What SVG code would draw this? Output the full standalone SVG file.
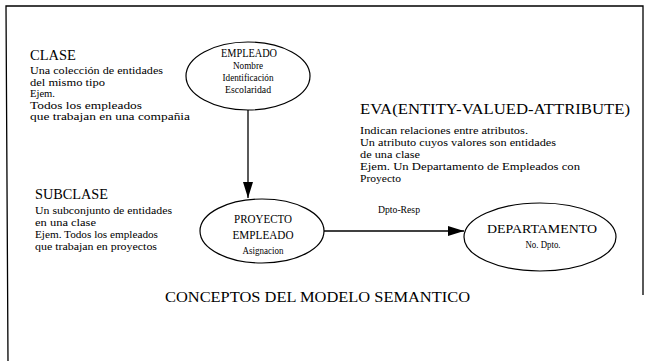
<svg xmlns="http://www.w3.org/2000/svg" width="648" height="361" viewBox="0 0 648 361" font-family="'Liberation Serif', serif">
<defs>
<marker id="ah" viewBox="0 0 16 10" refX="16" refY="5" markerWidth="16" markerHeight="10" markerUnits="userSpaceOnUse" orient="auto">
<path d="M0,0 L16,5 L0,10 Z" fill="#000"/>
</marker>
</defs>
<style>
text{font-family:'Liberation Serif','Times New Roman',serif;fill:#000}
.h{font-size:15px}
.t{font-size:10px}
.s{font-size:9.5px}
.n{font-size:12px}
.d{font-size:13px}
.c{text-anchor:middle}
.e{fill:#fff;stroke:#000;stroke-width:1.2}
.l{fill:none;stroke:#000;stroke-width:1.3}
</style>
<rect width="648" height="361" fill="#fff"/>
<polyline class="l" points="8,361 6,6 643,6 643,295"/>
<g id="clase">
<text class="h" x="30" y="60" textLength="46" lengthAdjust="spacingAndGlyphs">CLASE</text>
<text class="t" x="30" y="74" textLength="133" lengthAdjust="spacingAndGlyphs">Una colección de entidades</text>
<text class="t" x="30" y="85.5" textLength="75" lengthAdjust="spacingAndGlyphs">del mismo tipo</text>
<text class="t" x="30" y="97" textLength="25" lengthAdjust="spacingAndGlyphs">Ejem.</text>
<text class="t" x="30" y="108.5" textLength="112" lengthAdjust="spacingAndGlyphs">Todos los empleados</text>
<text class="t" x="30" y="120" textLength="160" lengthAdjust="spacingAndGlyphs">que trabajan en una compañia</text>
</g>
<g id="subclase">
<text class="h" x="35" y="199" textLength="73" lengthAdjust="spacingAndGlyphs">SUBCLASE</text>
<text class="t" x="35" y="214" textLength="137" lengthAdjust="spacingAndGlyphs">Un subconjunto de entidades</text>
<text class="t" x="35" y="226" textLength="61" lengthAdjust="spacingAndGlyphs">en una clase</text>
<text class="t" x="35" y="238" textLength="123" lengthAdjust="spacingAndGlyphs">Ejem. Todos los empleados</text>
<text class="t" x="35" y="250" textLength="122" lengthAdjust="spacingAndGlyphs">que trabajan en proyectos</text>
</g>
<g id="eva">
<text class="h" x="360" y="114" textLength="270" lengthAdjust="spacingAndGlyphs">EVA(ENTITY-VALUED-ATTRIBUTE)</text>
<text class="t" x="360" y="134" textLength="168" lengthAdjust="spacingAndGlyphs">Indican relaciones entre atributos.</text>
<text class="t" x="360" y="146" textLength="196" lengthAdjust="spacingAndGlyphs">Un atributo cuyos valores son entidades</text>
<text class="t" x="360" y="158" textLength="60" lengthAdjust="spacingAndGlyphs">de una clase</text>
<text class="t" x="360" y="170" textLength="220" lengthAdjust="spacingAndGlyphs">Ejem. Un Departamento de Empleados con</text>
<text class="t" x="360" y="182" textLength="41" lengthAdjust="spacingAndGlyphs">Proyecto</text>
</g>
<g id="connectors">
<line class="l" x1="248" y1="110" x2="248" y2="198" marker-end="url(#ah)"/>
<line class="l" x1="324" y1="231" x2="464" y2="231" marker-end="url(#ah)"/>
<text class="s" x="378" y="213" textLength="42" lengthAdjust="spacingAndGlyphs">Dpto-Resp</text>
</g>
<g id="empleado">
<ellipse class="e" cx="248" cy="76" rx="62" ry="34"/>
<text class="n c" x="249" y="57" textLength="56" lengthAdjust="spacingAndGlyphs">EMPLEADO</text>
<text class="s c" x="248" y="69" textLength="30" lengthAdjust="spacingAndGlyphs">Nombre</text>
<text class="s c" x="248" y="81" textLength="51" lengthAdjust="spacingAndGlyphs">Identificación</text>
<text class="s c" x="248" y="93" textLength="46" lengthAdjust="spacingAndGlyphs">Escolaridad</text>
</g>
<g id="proyecto">
<ellipse class="e" cx="262" cy="231" rx="62" ry="32"/>
<text class="n c" x="263" y="223" textLength="58" lengthAdjust="spacingAndGlyphs">PROYECTO</text>
<text class="n c" x="263" y="239" textLength="61" lengthAdjust="spacingAndGlyphs">EMPLEADO</text>
<text class="s c" x="263" y="254" textLength="41" lengthAdjust="spacingAndGlyphs">Asignacion</text>
</g>
<g id="departamento">
<ellipse class="e" cx="540" cy="237" rx="76" ry="34"/>
<text class="d c" x="542" y="233" textLength="110" lengthAdjust="spacingAndGlyphs">DEPARTAMENTO</text>
<text class="s c" x="543" y="248" textLength="35" lengthAdjust="spacingAndGlyphs">No. Dpto.</text>
</g>
<text class="h" x="165" y="302" textLength="305" lengthAdjust="spacingAndGlyphs">CONCEPTOS DEL MODELO SEMANTICO</text>
</svg>
